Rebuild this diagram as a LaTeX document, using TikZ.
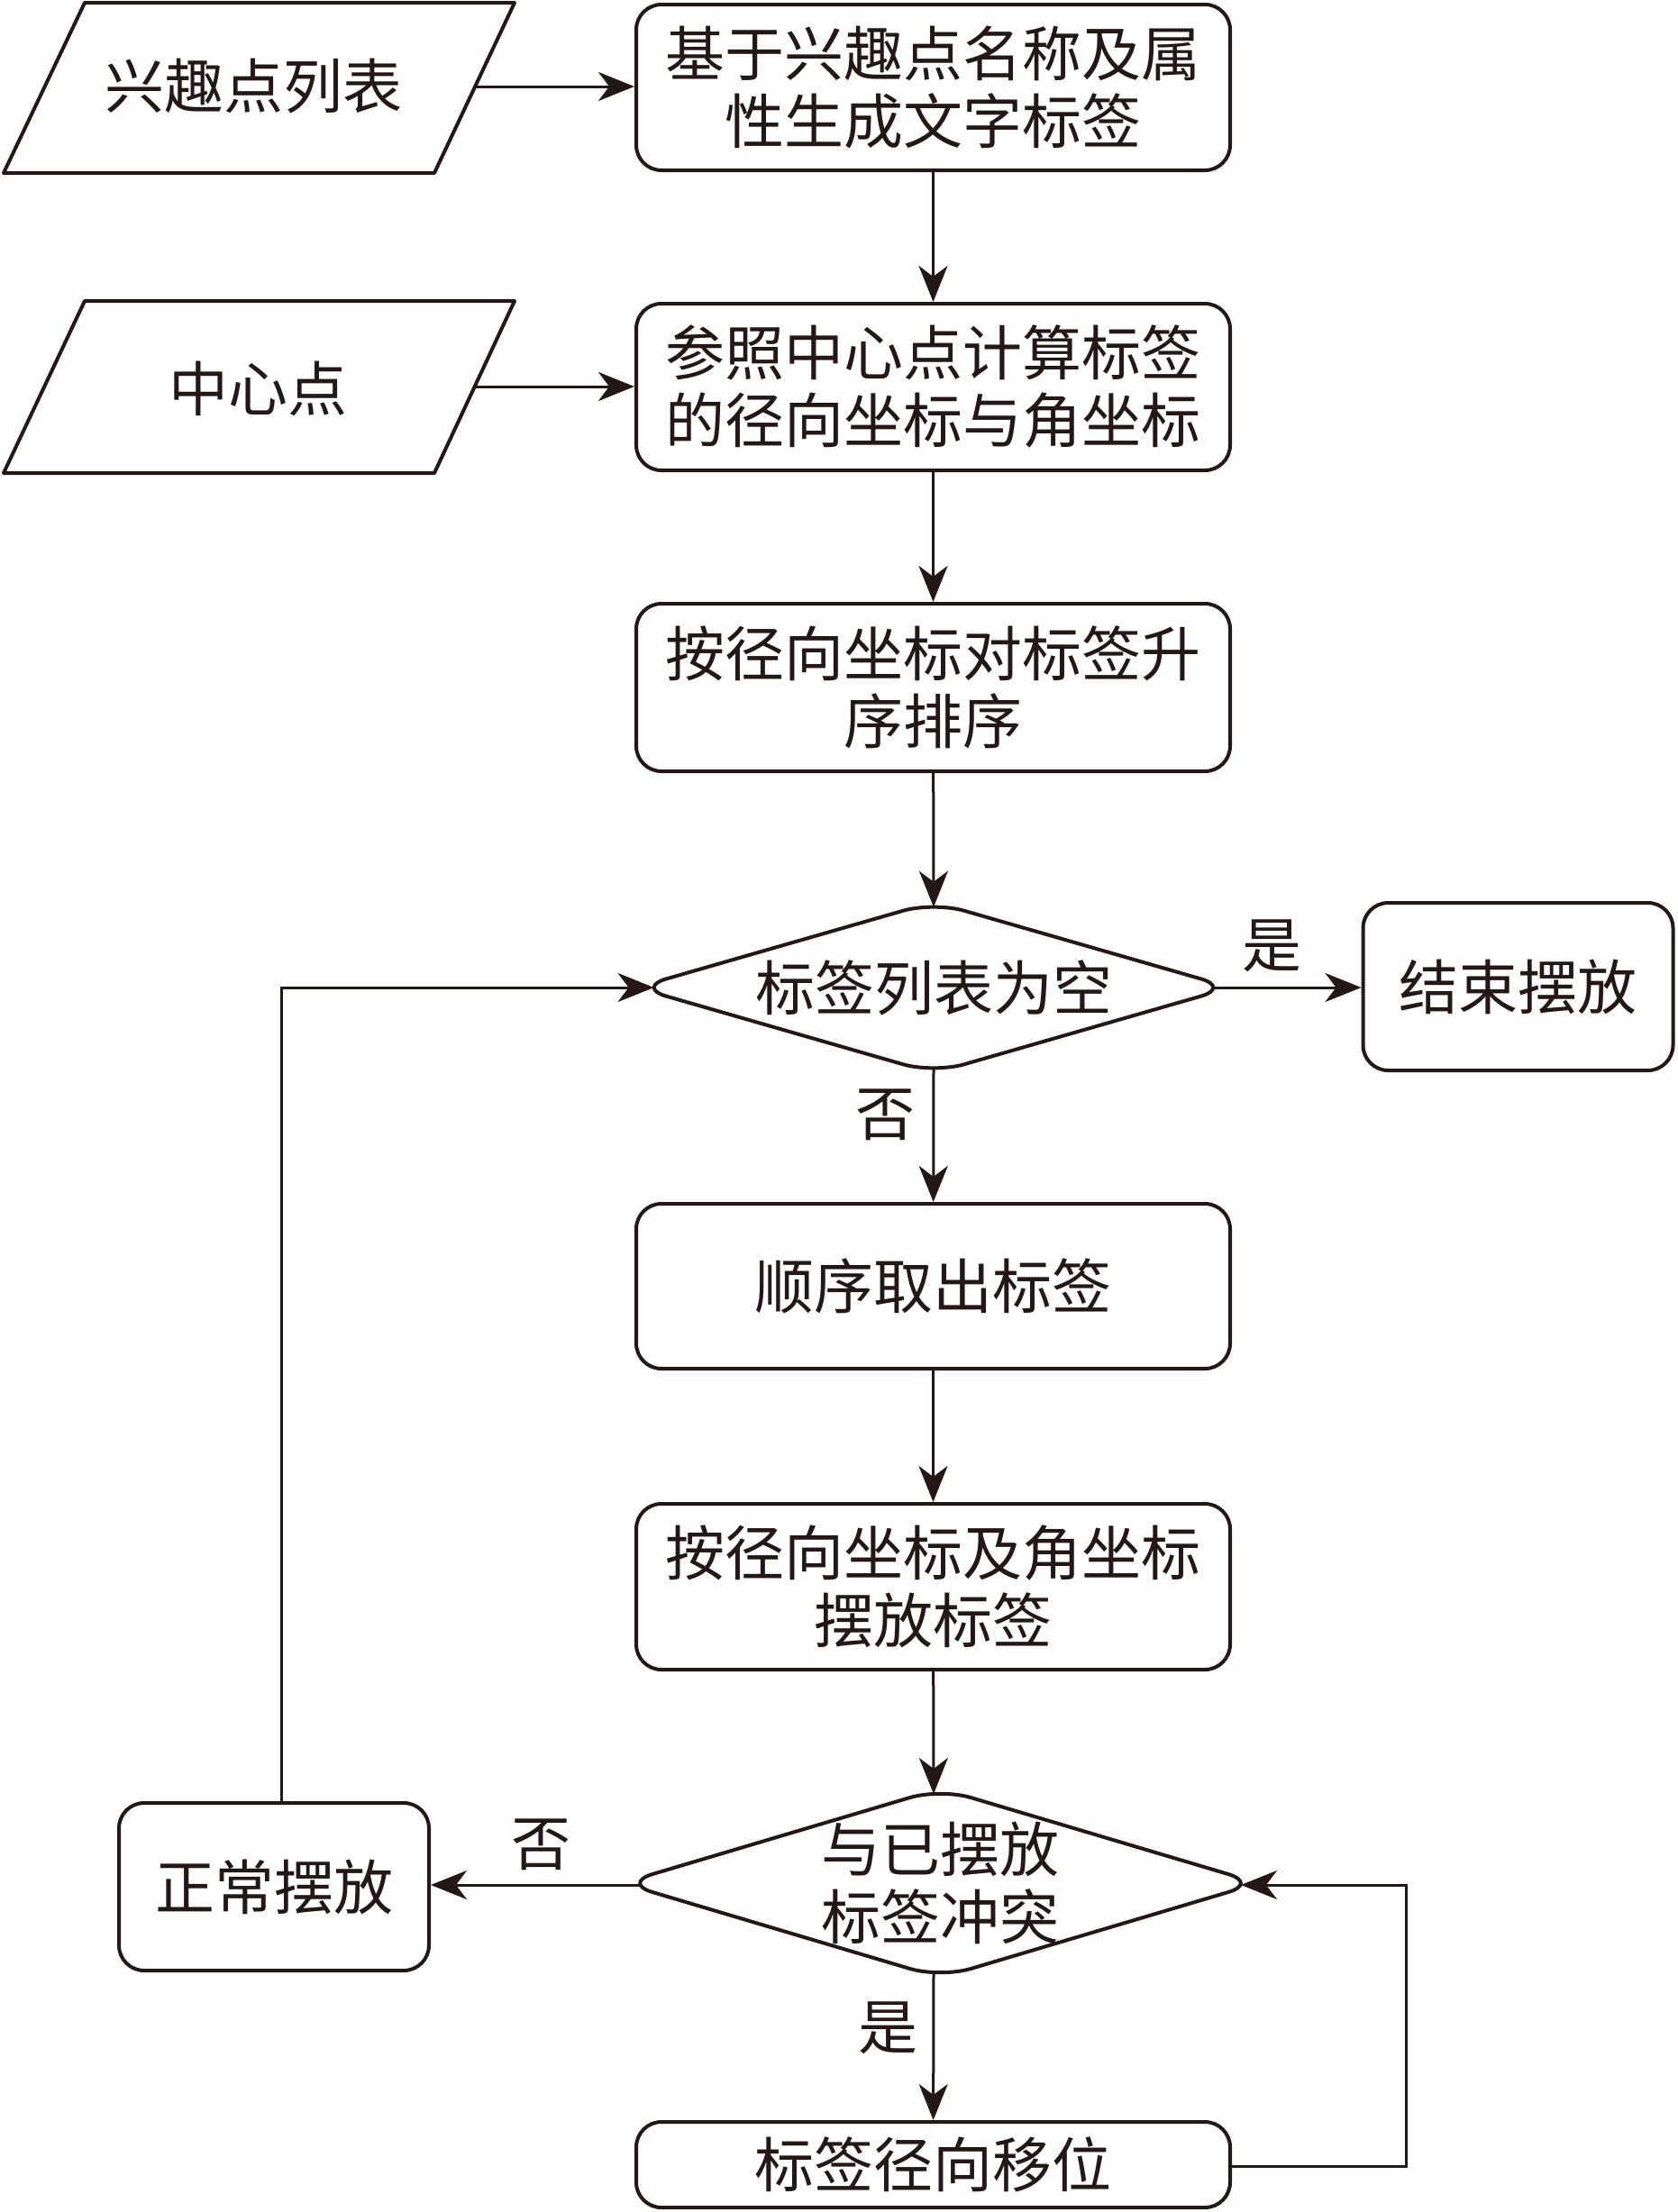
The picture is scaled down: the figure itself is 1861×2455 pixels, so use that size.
\documentclass[tikz,border=0pt]{standalone}
\usepackage{fontspec}
\newfontfamily\cjk{Noto Sans CJK SC}
\usetikzlibrary{arrows.meta}
\definecolor{ink}{RGB}{35,24,21}
\begin{document}
\begin{tikzpicture}[x=1pt,y=-1pt,
  txt/.style={font=\cjk\fontsize{66pt}{75pt}\selectfont, text=ink, align=center, inner sep=0pt},
  box/.style={txt, draw=ink, line width=4pt, rounded corners=28pt, minimum width=659pt},
  smallbox/.style={txt, draw=ink, line width=4pt, rounded corners=28pt, minimum width=344pt, minimum height=186pt},
  shapeline/.style={draw=ink, line width=4pt, line join=round},
  conn/.style={draw=ink, line width=3pt, -{Stealth[length=40pt,width=32pt,inset=12pt]}},
  plainline/.style={draw=ink, line width=3pt}
]
\useasboundingbox (0,0) rectangle (1861,2455);

% input parallelograms
\draw[shapeline] (94,3) -- (571,3) -- (482,192) -- (4,192) -- cycle;
\draw[shapeline] (94,334) -- (571,334) -- (482,525) -- (4,525) -- cycle;
\node[txt] (p1) at (281,96) {兴趣点列表};
\node[txt] (p2) at (286,431) {中心点};
\coordinate (p1out) at (527,96);
\coordinate (p2out) at (526,429);

% process boxes
\node[box, minimum height=184pt] (b1) at (1035.5,97) {基于兴趣点名称及属\\性生成文字标签};
\node[box, minimum height=185pt] (b2) at (1035.5,429.5) {参照中心点计算标签\\的径向坐标与角坐标};
\node[box, minimum height=186pt] (b3) at (1035.5,763) {按径向坐标对标签升\\序排序};
\node[box, minimum height=183pt] (b4) at (1035.5,1427.5) {顺序取出标签};
\node[box, minimum height=184pt] (b5) at (1035.5,1761) {按径向坐标及角坐标\\摆放标签};
\node[box, minimum height=95pt] (b6) at (1035.5,2402.5) {标签径向移位};
\node[smallbox] (end) at (1684.5,1095) {结束摆放};
\node[smallbox] (normal) at (304,2094) {正常摆放};

% decision 1
\draw[shapeline, rounded corners=35pt] (706,1096) -- (1036,1001) -- (1366,1096) -- (1036,1191) -- cycle;
\node[txt] (d1) at (1036,1096) {标签列表为空};
\coordinate (d1L) at (725.6,1096);
\coordinate (d1R) at (1346.4,1096);
\coordinate (d1T) at (1036,1006.7);
\coordinate (d1B) at (1036,1185.3);

% decision 2
\draw[shapeline, rounded corners=35pt] (690.5,2090) -- (1043.5,1985) -- (1396.5,2090) -- (1043.5,2195) -- cycle;
\node[txt] (d2) at (1043.5,2090) {与已摆放\\标签冲突};
\coordinate (d2L) at (710,2092);
\coordinate (d2R) at (1377,2092);
\coordinate (d2T) at (1036,1991);
\coordinate (d2B) at (1036,2189);

% connectors
\draw[conn] (p1out) -- (p1out -| b1.west);
\draw[conn] (p2out) -- (p2out -| b2.west);
\draw[conn] (b1) -- (b2);
\draw[conn] (b2) -- (b3);
\draw[conn] (b3) -- (d1T);
\draw[conn] (d1R) -- (d1R -| end.west);
\draw[conn] (d1B) -- (b4);
\draw[conn] (b4) -- (b5);
\draw[conn] (b5) -- (d2T);
\draw[conn] (d2B) -- (b6);
\draw[conn] (d2L) -- (d2L -| normal.east);
\coordinate (loopL) at (312,1999);
\draw[conn] (loopL) -- (loopL |- d1L) -- (d1L);
\coordinate (loopR) at (1560,2404);
\draw[conn] (b6.east |- loopR) -- (loopR) -- (loopR |- d2R) -- (d2R);

% labels
\node[txt] (yes1) at (1411,1050) {是};
\node[txt] (no1) at (982,1237) {否};
\node[txt] (no2) at (600,2047) {否};
\node[txt] (yes2) at (985,2251) {是};
\end{tikzpicture}
\end{document}
